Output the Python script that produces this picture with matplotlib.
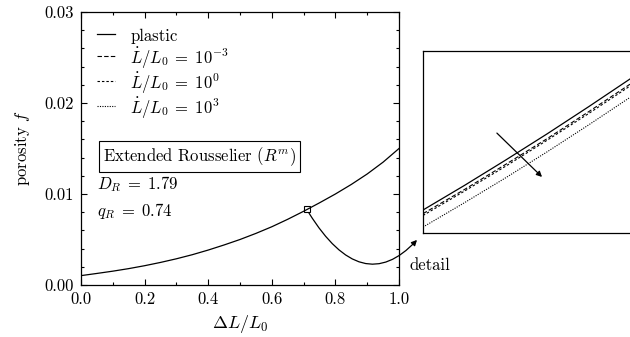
import matplotlib
matplotlib.use("Agg")
import matplotlib.pyplot as plt
from matplotlib.ticker import MultipleLocator

plt.rcParams['font.family'] = 'serif'
plt.rcParams['font.serif'] = ['cmr10']
plt.rcParams['mathtext.fontset'] = 'cm'
plt.rcParams['axes.formatter.use_mathtext'] = True
plt.rcParams['font.size'] = 12

# ---- data: main plot (plastic curve) ----
dl = [0.00, 0.05, 0.10, 0.15, 0.20, 0.25, 0.30, 0.35, 0.40, 0.45, 0.50,
      0.55, 0.60, 0.65, 0.70, 0.75, 0.80, 0.85, 0.90, 0.95, 1.00]
f_plastic = [1.03e-3, 1.27e-3, 1.52e-3, 1.80e-3, 2.12e-3, 2.48e-3, 2.88e-3,
             3.33e-3, 3.84e-3, 4.40e-3, 5.00e-3, 5.67e-3, 6.40e-3, 7.22e-3,
             8.10e-3, 9.03e-3, 10.0e-3, 11.05e-3, 12.2e-3, 13.5e-3, 15.0e-3]
detail_point = (0.71, 0.0083)

# ---- data: detail (inset) ----
dl_detail = [0.695, 0.700, 0.705, 0.710, 0.715, 0.720]
f_det_plastic = [8.101e-3, 8.209e-3, 8.321e-3, 8.436e-3, 8.555e-3, 8.677e-3]
f_det_m3 = [8.085e-3, 8.191e-3, 8.302e-3, 8.415e-3, 8.533e-3, 8.654e-3]
f_det_0 = [8.077e-3, 8.184e-3, 8.294e-3, 8.408e-3, 8.525e-3, 8.646e-3]
f_det_3 = [8.026e-3, 8.133e-3, 8.243e-3, 8.357e-3, 8.475e-3, 8.596e-3]

labels = ['plastic', r'$\dot{L}/L_0\;=\;10^{-3}$', r'$\dot{L}/L_0\;=\;10^{0}$',
          r'$\dot{L}/L_0\;=\;10^{3}$']
xticks = [0.0, 0.2, 0.4, 0.6, 0.8, 1.0]
yticks = [0.00, 0.01, 0.02, 0.03]

W, H = 630, 337
fig = plt.figure(figsize=(W / 100, H / 100), dpi=100)

ax = fig.add_axes([81 / W, (H - 285) / H, 318 / W, 273 / H])
ax.plot(dl, f_plastic, color='black', lw=0.9)
ax.plot([detail_point[0]], [detail_point[1]], marker='s', ms=5, mfc='none',
        mec='black', mew=0.8, ls='none')
ax.set_xlim(0, 1)
ax.set_ylim(0, 0.03)
ax.set_xticks(xticks)
ax.set_yticks(yticks)
ax.set_xticklabels([f'{v:.1f}' for v in xticks])
ax.set_yticklabels([f'{v:.2f}' for v in yticks])
ax.xaxis.set_minor_locator(MultipleLocator(0.1))
ax.yaxis.set_minor_locator(MultipleLocator(0.002))
ax.tick_params(which='both', direction='in', top=True, right=True, width=0.8,
               labelsize=12)
ax.tick_params(which='major', length=4, pad=5)
ax.tick_params(which='minor', length=2.3)
for s in ax.spines.values():
    s.set_linewidth(0.9)
ax.set_xlabel(r'$\Delta L/L_0$', fontsize=13, labelpad=4)
ax.set_ylabel(r'porosity $f$', fontsize=12, labelpad=9)

ax.text(0.069, 0.469, r'Extended Rousselier ($R^m$)', transform=ax.transAxes,
        va='center', ha='left',
        bbox=dict(boxstyle='square,pad=0.25', fc='white', ec='black', lw=0.8))
ax.text(0.05, 0.37, r'$D_R\;=\;1.79$', transform=ax.transAxes, va='center')
ax.text(0.05, 0.271, r'$q_R\;=\;0.74$', transform=ax.transAxes, va='center')

# ---- inset ----
axi = fig.add_axes([423 / W, (H - 233) / H, 207 / W, 182 / H])
l0, = axi.plot(dl_detail, f_det_plastic, color='black', lw=0.9)
l1, = axi.plot(dl_detail, f_det_m3, color='black', lw=0.8, ls=(0, (4, 2)))
l2, = axi.plot(dl_detail, f_det_0, color='black', lw=0.8, ls=(0, (2.2, 1.8)))
l3, = axi.plot(dl_detail, f_det_3, color='black', lw=0.8, ls=(0, (1, 1.2)))
axi.set_xlim(dl_detail[0], dl_detail[-1])
axi.set_ylim(0.0080, 0.0088)
axi.set_xticks([])
axi.set_yticks([])
axi.spines['right'].set_visible(False)
for s in ['left', 'top', 'bottom']:
    axi.spines[s].set_linewidth(0.9)
axi.annotate('', xy=(0.575, 0.308), xytext=(0.357, 0.549),
             xycoords='axes fraction', textcoords='axes fraction',
             arrowprops=dict(arrowstyle='-|>', color='black', lw=0.9,
                             mutation_scale=8, shrinkA=0, shrinkB=0))

ax.legend([l0, l1, l2, l3], labels, loc='upper left',
          bbox_to_anchor=(0.05, 0.949), frameon=False, borderpad=0,
          borderaxespad=0, handlelength=1.1, handletextpad=0.9,
          handleheight=1.45, labelspacing=0.0, fontsize=12)

# ---- arrow from the detail box to the inset ----
ax.annotate('', xy=(-0.029, -0.038), xycoords=axi.transAxes,
            xytext=detail_point, textcoords='data',
            arrowprops=dict(arrowstyle='-|>', color='black', lw=0.9,
                            mutation_scale=8, shrinkA=3, shrinkB=0,
                            connectionstyle='angle3,angleA=-59,angleB=47'),
            annotation_clip=False)

fig.text(410 / W, 1 - 265 / H, 'detail', va='center', ha='left', fontsize=12)

fig.savefig('out.png', dpi=100)
